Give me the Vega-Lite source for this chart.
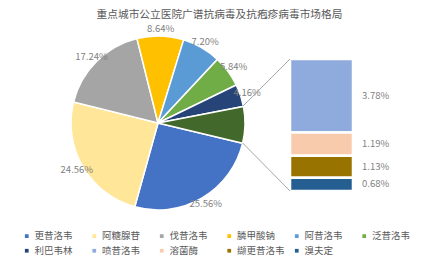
{
  "$schema": "https://vega.github.io/schema/vega-lite/v6.json",
  "width": 431,
  "height": 238,
  "autosize": {"type": "none"},
  "padding": {"top": 24, "left": 0, "right": 0, "bottom": 0},
  "background": "white",
  "title": {
    "text": "重点城市公立医院广谱抗病毒及抗疱疹病毒市场格局",
    "font": "Noto Sans CJK SC",
    "fontSize": 10.7,
    "fontWeight": "normal",
    "color": "#595959",
    "offset": 3,
    "dx": 4
  },
  "config": {"view": {"stroke": null}, "font": "Noto Sans CJK SC"},
  "data": {
    "values": [
      {"name": "更昔洛韦", "value": 25.56, "group": "pie", "idx": 1, "label": "25.56%"},
      {"name": "阿糖腺苷", "value": 24.56, "group": "pie", "idx": 2, "label": "24.56%"},
      {"name": "伐昔洛韦", "value": 17.24, "group": "pie", "idx": 3, "label": "17.24%"},
      {"name": "膦甲酸钠", "value": 8.64, "group": "pie", "idx": 4, "label": "8.64%"},
      {"name": "阿昔洛韦", "value": 7.20, "group": "pie", "idx": 5, "label": "7.20%"},
      {"name": "泛昔洛韦", "value": 5.84, "group": "pie", "idx": 6, "label": "5.84%"},
      {"name": "利巴韦林", "value": 4.16, "group": "pie", "idx": 7, "label": "4.16%"},
      {"name": "其他", "value": 6.78, "group": "pie", "idx": 8, "label": ""},
      {"name": "喷昔洛韦", "value": 3.78, "group": "bar", "idx": 9, "label": "3.78%"},
      {"name": "溶菌酶", "value": 1.19, "group": "bar", "idx": 10, "label": "1.19%"},
      {"name": "缬更昔洛韦", "value": 1.13, "group": "bar", "idx": 11, "label": "1.13%"},
      {"name": "溴夫定", "value": 0.68, "group": "bar", "idx": 12, "label": "0.68%"}
    ]
  },
  "layer": [
    {
      "transform": [{"filter": "datum.group === 'pie'"}],
      "mark": {"type": "arc", "outerRadius": 87, "stroke": "white", "strokeWidth": 1.5},
      "encoding": {
        "theta": {"field": "value", "type": "quantitative", "stack": true, "scale": {"range": [1.806, 8.089]}},
        "order": {"field": "idx", "type": "quantitative"},
        "color": {
          "field": "name",
          "type": "nominal",
          "scale": {
            "domain": ["更昔洛韦", "阿糖腺苷", "伐昔洛韦", "膦甲酸钠", "阿昔洛韦", "泛昔洛韦", "利巴韦林", "喷昔洛韦", "溶菌酶", "缬更昔洛韦", "溴夫定", "其他"],
            "range": ["#4472C4", "#FFE699", "#A5A5A5", "#FFC000", "#5B9BD5", "#70AD47", "#264478", "#8FAADC", "#F8CBAD", "#997300", "#255E91", "#43682B"]
          },
          "legend": {
            "orient": "none",
            "direction": "horizontal",
            "legendX": 22,
            "legendY": 207,
            "columns": 6,
            "gridAlign": "all",
            "columnPadding": 6.5,
            "rowPadding": 4,
            "padding": 0,
            "title": null,
            "symbolType": "square",
            "symbolSize": 14,
            "symbolStrokeWidth": 0,
            "labelFontSize": 9.5,
            "labelColor": "#595959",
            "labelOffset": 3,
            "values": ["更昔洛韦", "阿糖腺苷", "伐昔洛韦", "膦甲酸钠", "阿昔洛韦", "泛昔洛韦", "利巴韦林", "喷昔洛韦", "溶菌酶", "缬更昔洛韦", "溴夫定"]
          }
        },
        "x": {"datum": 36.66, "type": "quantitative", "scale": {"domain": [0, 100], "nice": false, "zero": false}, "axis": null},
        "y": {"datum": 3.493, "type": "quantitative", "scale": {"domain": [-3.647, 8.578], "nice": false, "zero": false}, "axis": null}
      }
    },
    {
      "transform": [{"filter": "datum.group === 'pie'"}],
      "mark": {"type": "text", "radius": 94, "fontSize": 9.5, "color": "#7F7F7F"},
      "encoding": {
        "theta": {"field": "value", "type": "quantitative", "stack": true},
        "order": {"field": "idx", "type": "quantitative"},
        "text": {"field": "label"},
        "x": {"datum": 36.66, "type": "quantitative"},
        "y": {"datum": 3.493, "type": "quantitative"}
      }
    },
    {
      "transform": [
        {"filter": "datum.group === 'bar'"},
        {"stack": "value", "groupby": [], "sort": [{"field": "value", "order": "ascending"}], "as": ["s0", "s1"]},
        {"calculate": "(datum.s0 + datum.s1) / 2", "as": "mid"}
      ],
      "layer": [
        {
          "mark": {"type": "rect", "stroke": "white", "strokeWidth": 2.5},
          "encoding": {
            "x": {"datum": 67.29, "type": "quantitative"},
            "x2": {"datum": 81.9},
            "y": {"field": "s0", "type": "quantitative"},
            "y2": {"field": "s1"},
            "color": {"field": "name", "type": "nominal"}
          }
        },
        {
          "mark": {"type": "text", "align": "left", "fontSize": 9.5, "color": "#7F7F7F"},
          "encoding": {
            "x": {"datum": 84, "type": "quantitative"},
            "y": {"field": "mid", "type": "quantitative"},
            "text": {"field": "label"}
          }
        }
      ]
    },
    {
      "data": {"values": [{"link": "top"}]},
      "mark": {"type": "rule", "color": "#A6A6A6", "strokeWidth": 1},
      "encoding": {
        "x": {"datum": 56.4, "type": "quantitative"},
        "y": {"datum": 4.366, "type": "quantitative"},
        "x2": {"datum": 67.29},
        "y2": {"datum": 6.78}
      }
    },
    {
      "data": {"values": [{"link": "bottom"}]},
      "mark": {"type": "rule", "color": "#A6A6A6", "strokeWidth": 1},
      "encoding": {
        "x": {"datum": 56.3, "type": "quantitative"},
        "y": {"datum": 2.466, "type": "quantitative"},
        "x2": {"datum": 67.29},
        "y2": {"datum": 0}
      }
    }
  ]
}
